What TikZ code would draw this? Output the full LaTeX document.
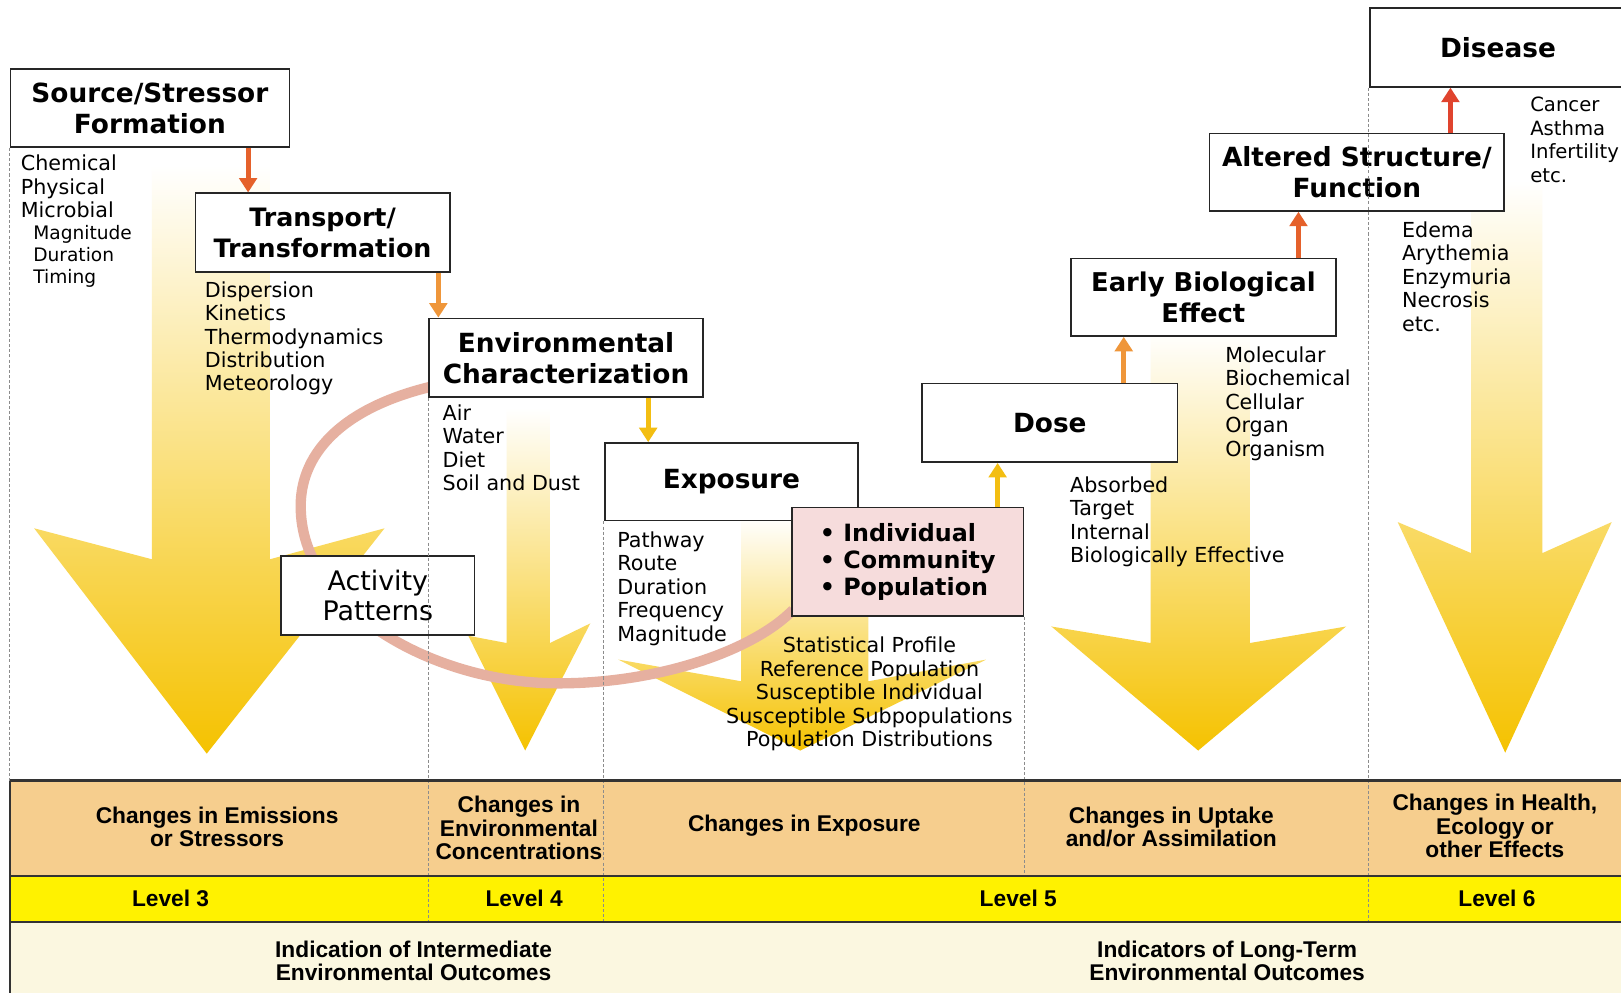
\documentclass[tikz,border=0pt]{standalone}
\usepackage{fontspec}
\setmainfont{DejaVu Sans}
\newfontfamily\arialfont{Liberation Sans}
\usetikzlibrary{arrows.meta}
\usetikzlibrary{calc}

\definecolor{bandtan}{HTML}{F6CE8E}
\definecolor{bandyel}{HTML}{FFF200}
\definecolor{bandcream}{HTML}{FBF7E0}
\definecolor{ringpink}{HTML}{E6B0A0}
\definecolor{boxpink}{HTML}{F6DCDC}
\definecolor{arrred}{HTML}{E0442E}
\definecolor{arrredor}{HTML}{E5612B}
\definecolor{arror}{HTML}{EF963A}
\definecolor{arrgold}{HTML}{F3BE12}
\definecolor{shaftyel}{HTML}{FFF46E}
\definecolor{tipgold}{HTML}{F5C200}

\tikzset{
  every node/.style = {font = \fontsize{20}{22.7}\selectfont}
}
\tikzset{
    >={Triangle[length=14pt,width=17pt]}
}
\tikzset{
  stagebox/.style = {draw=black!85, line width=1.6pt, fill=white, align=center,
    inner sep=0pt, font=\fontsize{25.5}{30}\selectfont\bfseries},
  listtxt/.style = {align=left, inner sep=0pt, anchor=north west},
  bandtxt/.style = {align=center, inner sep=0pt,
    font=\arialfont\fontsize{22}{22.5}\selectfont\bfseries},
  divider/.style = {draw=black!45, line width=1pt, dash pattern=on 3pt off 2pt},
  bandline/.style = {draw=black!80, line width=2pt},
  linkarrow/.style = {->, line width=5pt},
  bigarrow/.style = {top color=white, middle color=shaftyel, bottom color=tipgold}
}

\begin{document}
\begin{tikzpicture}[x=1pt,y=-1pt]
\clip (0,0) rectangle (1568,961);
\fill[white] (0,0) rectangle (1568,961);

\coordinate (bandtop) at (0,755);
\coordinate (lvltop) at (0,847);
\coordinate (lvlbot) at (0,892);

% Bands at the bottom
\fill[bandtan] (10,755) rectangle (1568,847);
\fill[bandyel] (10,847) rectangle (1568,892);
\fill[bandcream] (10,892) rectangle (1568,961);

% Big yellow arrows, left to right
\shade[bigarrow] (147,160) -- (147,541) -- (33,511) -- (200,729)
  -- (372,511) -- (261,541) -- (261,160) -- cycle;
\shade[bigarrow] (490,395) -- (490,622) -- (453,615) -- (508,726)
  -- (571,603) -- (532,622) -- (532,395) -- cycle;
\shade[bigarrow] (717,500) -- (717,659) -- (598,638) -- (774,726)
  -- (954,638) -- (840,659) -- (840,500) -- cycle;
\shade[bigarrow] (1113,320) -- (1113,622) -- (1017,606) -- (1159,726)
  -- (1302,606) -- (1209,622) -- (1209,320) -- cycle;
\shade[bigarrow] (1423,175) -- (1423,535) -- (1352,505) -- (1456,728)
  -- (1559,505) -- (1492,535) -- (1492,175) -- cycle;

% The ring from the environment to the population
\coordinate (ringA) at (417,374);
\coordinate (ringB) at (767,590);
\draw[ringpink, line width=10pt] (ringA)
  .. controls (330,395) and (288,440) .. (291,495)
  .. controls (295,590) and (420,661) .. (540,661)
  .. controls (640,661) and (730,628) .. (ringB);

% Stage boxes
\node[stagebox, minimum width=270pt, minimum height=75pt] (src) at (145,104.5)
  {Source/Stressor\\Formation};
\node[stagebox, minimum width=246pt, minimum height=76pt,
  font=\fontsize{24.5}{30}\selectfont\bfseries] (trans) at (312,225)
  {Transport/\\Transformation};
\node[stagebox, minimum width=265pt, minimum height=76pt] (env) at (547.5,346)
  {Environmental\\Characterization};
\node[stagebox, minimum width=245pt, minimum height=75pt] (expo) at (707.5,466)
  {Exposure};
\node[stagebox, fill=boxpink, minimum width=224pt, minimum height=105pt,
  align=left, font=\fontsize{23}{26}\selectfont\bfseries] (pop) at (878,543.5)
  {\textbullet\ Individual\\\textbullet\ Community\\\textbullet\ Population};
\node[stagebox, minimum width=187pt, minimum height=76pt,
  font=\fontsize{26}{29}\selectfont] (act) at (365.5,576)
  {Activity\\Patterns};
\node[stagebox, minimum width=247pt, minimum height=76pt] (dose) at (1015.5,409)
  {Dose};
\node[stagebox, minimum width=256pt, minimum height=75pt,
  font=\fontsize{25}{30}\selectfont\bfseries] (early) at (1164,287.5)
  {Early Biological\\Effect};
\node[stagebox, minimum width=285pt, minimum height=75pt] (alter) at (1312.5,166.5)
  {Altered Structure/\\Function};
\node[stagebox, minimum width=248pt, minimum height=76pt] (dis) at (1449,46)
  {Disease};

% Dividers
\draw[divider] (src.south west) -- (src.south west |- bandtop);
\draw[divider] (env.south west) -- (env.south west |- lvlbot);
\draw[divider] (expo.south west) -- (expo.south west |- lvlbot);
\draw[divider] (pop.south east) -- (pop.south east |- lvltop);
\draw[divider] (dis.south west) -- (dis.south west |- lvlbot);

% Band borders
\draw[bandline] (10,755) -- (1568,755);
\draw[bandline] (10,847) -- (1568,847);
\draw[bandline] (10,892) -- (1568,892);
\draw[bandline] (10,755) -- (10,961);

% Links between the stages
\coordinate (lk1) at (240,0);
\coordinate (lk2) at (424,0);
\coordinate (lk3) at (627,0);
\coordinate (lk4) at (965,0);
\coordinate (lk5) at (1087,0);
\coordinate (lk6) at (1256,0);
\coordinate (lk7) at (1403,0);
\draw[linkarrow, arrredor] (lk1 |- src.south) -- (lk1 |- trans.north);
\draw[linkarrow, arror] (lk2 |- trans.south) -- (lk2 |- env.north);
\draw[linkarrow, arrgold] (lk3 |- env.south) -- (lk3 |- expo.north);
\draw[linkarrow, arrgold] (lk4 |- pop.north) -- (lk4 |- dose.south);
\draw[linkarrow, arror] (lk5 |- dose.north) -- (lk5 |- early.south);
\draw[linkarrow, arrredor] (lk6 |- early.north) -- (lk6 |- alter.south);
\draw[linkarrow, arrred] (lk7 |- alter.north) -- (lk7 |- dis.south);

% Lists under the stages
\node[listtxt] (srclist) at (20,150) {Chemical\\Physical\\Microbial};
\node[listtxt, font=\fontsize{18}{21}\selectfont] (srcsub) at (32,218)
  {Magnitude\\Duration\\Timing};
\node[listtxt] (translist) at (198,272)
  {Dispersion\\Kinetics\\Thermodynamics\\Distribution\\Meteorology};
\node[listtxt] (envlist) at (428,391) {Air\\Water\\Diet\\Soil and Dust};
\node[listtxt] (expolist) at (597,514)
  {Pathway\\Route\\Duration\\Frequency\\Magnitude};
\node[listtxt, align=center, anchor=north] (poplist) at (841,616)
  {Statistical Profile\\Reference Population\\Susceptible Individual\\
   Susceptible Subpopulations\\Population Distributions};
\node[listtxt] (doselist) at (1035,461)
  {Absorbed\\Target\\Internal\\Biologically Effective};
\node[listtxt] (earlylist) at (1185,335)
  {Molecular\\Biochemical\\Cellular\\Organ\\Organism};
\node[listtxt] (alterlist) at (1356,214)
  {Edema\\Arythemia\\Enzymuria\\Necrosis\\etc.};
\node[listtxt, font=\fontsize{19}{22.7}\selectfont] (dislist) at (1480,94)
  {Cancer\\Asthma\\Infertility\\etc.};

% Band texts
\node[bandtxt] (chg3) at (210,800) {Changes in Emissions\\or Stressors};
\node[bandtxt] (chg4) at (502,801) {Changes in\\Environmental\\Concentrations};
\node[bandtxt] (chg5a) at (778,799) {Changes in Exposure};
\node[bandtxt] (chg5b) at (1133,800) {Changes in Uptake\\and/or Assimilation};
\node[bandtxt] (chg6) at (1446,799) {Changes in Health,\\Ecology or\\other Effects};
\node[bandtxt] (lvl3) at (165,869) {Level 3};
\node[bandtxt] (lvl4) at (507,869) {Level 4};
\node[bandtxt] (lvl5) at (985,869) {Level 5};
\node[bandtxt] (lvl6) at (1448,869) {Level 6};
\node[bandtxt] (indA) at (400,929.5) {Indication of Intermediate\\Environmental Outcomes};
\node[bandtxt] (indB) at (1187,929.5) {Indicators of Long-Term\\Environmental Outcomes};
\end{tikzpicture}
\end{document}
